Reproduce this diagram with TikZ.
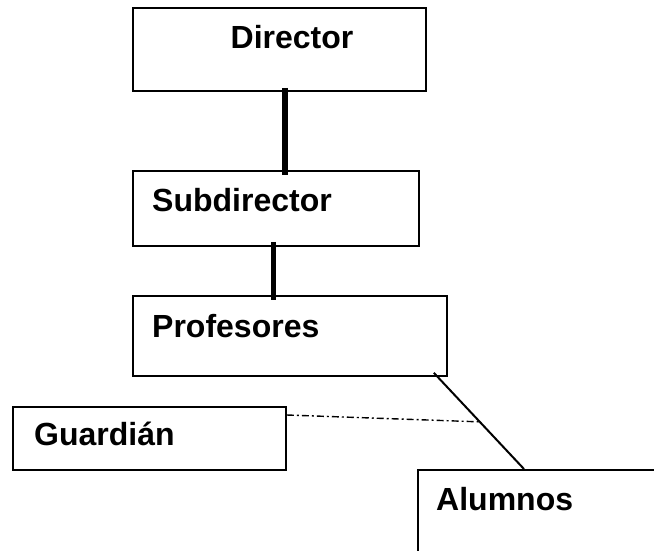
\documentclass[tikz,border=0pt]{standalone}
\usepackage{fontspec}
\setmainfont{Liberation Sans}
\begin{document}
\begin{tikzpicture}[x=1pt,y=-1pt,
  box/.style={draw,line width=1.8pt,rectangle,inner sep=0pt,anchor=north west},
  lbl/.style={font=\fontsize{32}{38}\selectfont\bfseries,inner sep=0pt},
  heavy/.style={line width=6pt},
  medium/.style={line width=5pt},
  thinlink/.style={line width=2pt},
  dashdot/.style={line width=1.4pt,dash pattern=on 7pt off 3pt on 2pt off 3pt}]
\clip (0,0) rectangle (654,550);
\fill[white] (0,0) rectangle (654,550);
% boxes
\node[box,minimum width=293pt,minimum height=83pt] (dir) at (132,7) {};
\node[box,minimum width=286pt,minimum height=75pt] (sub) at (132,170) {};
\node[box,minimum width=314pt,minimum height=80pt] (prof) at (132,295) {};
\node[box,minimum width=273pt,minimum height=63pt] (gua) at (12,406) {};
\node[box,minimum width=244pt,minimum height=90pt] (alu) at (417,469) {};
% labels
\node[lbl,anchor=base] (dirt) at (292,48) {Director};
\node[lbl,anchor=base west] (subt) at (152,211) {Subdirector};
\node[lbl,anchor=base west] (proft) at (152,337) {Profesores};
\node[lbl,anchor=base west] (guat) at (34,445) {Guardián};
\node[lbl,anchor=base west] (alut) at (436,510) {Alumnos};
% connectors
\draw[heavy] ([xshift=153pt,yshift=4pt]dir.south west) coordinate (a1)
  -- ([yshift=-5pt]a1 |- sub.north);
\draw[medium] ([xshift=141pt,yshift=5pt]sub.south west) coordinate (a2)
  -- ([yshift=-5pt]a2 |- prof.north);
\draw[thinlink] ([xshift=-14pt,yshift=4pt]prof.south east)
  -- coordinate[pos=0.51] (m) ([xshift=107pt]alu.north west);
\draw[dashdot] ([yshift=-9pt]gua.north east) -- (m);
\end{tikzpicture}
\end{document}
